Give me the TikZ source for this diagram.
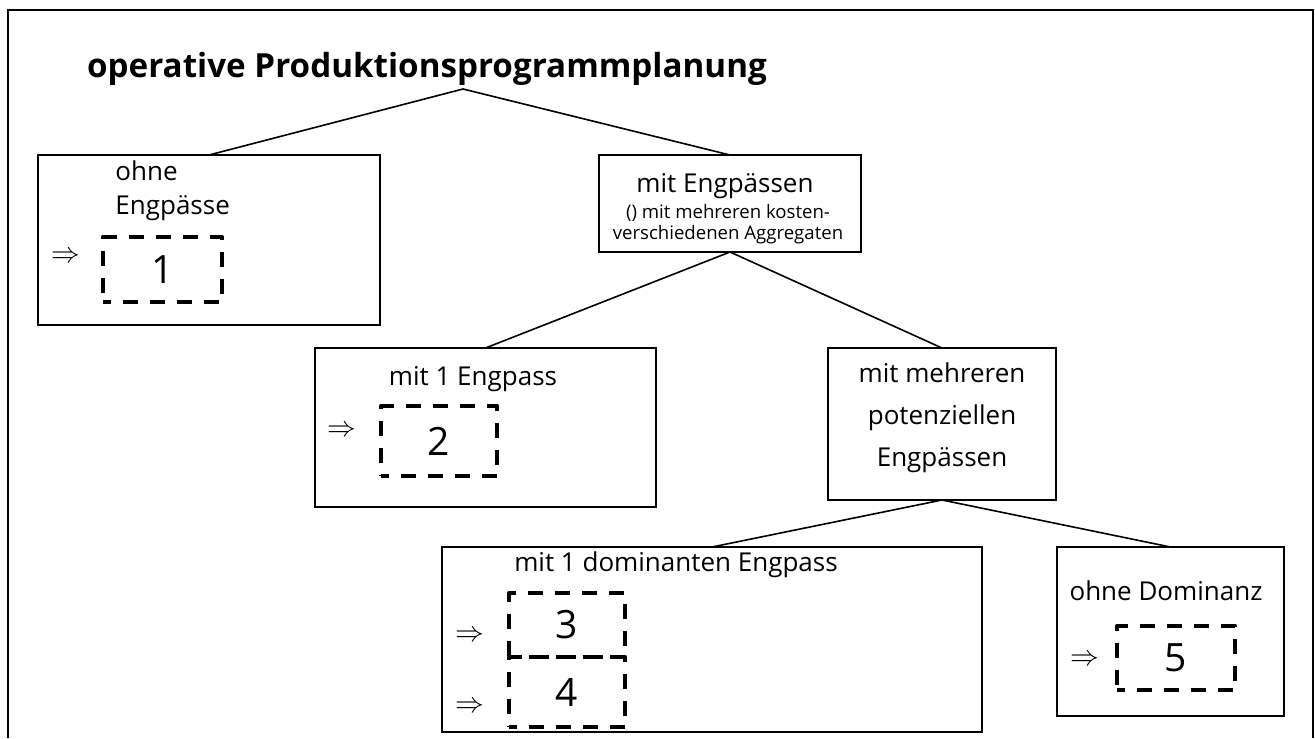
\documentclass[tikz,border=0pt]{standalone}
\usepackage{fontspec}
\setmainfont{Open Sans}
\usetikzlibrary{positioning}

\begin{document}
\begin{tikzpicture}[x=0.5pt, y=-0.5pt,
        box/.style={draw, line width=0.8pt, inner sep=0pt, outer sep=0pt},
        lbl/.style={inner sep=0pt, font=\fontsize{13}{17}\selectfont},
        note/.style={inner sep=0pt, font=\fontsize{9.3}{10.5}\selectfont, align=center},
        result/.style={draw, line width=2.4pt, dash pattern=on 7.5pt off 6pt, dash phase=3.75pt, line join=round, inner sep=0pt, font=\fontsize{19.5}{22}\selectfont},
        impl/.style={inner sep=0pt, font=\fontsize{15}{17}\selectfont},
        branch/.style={line width=0.8pt}
    ]
        \useasboundingbox (0,0) rectangle (1315,738);
        \draw[line width=1pt] (8,738) -- (8,10) -- (1313,10) -- (1313,738);

        \node[inner sep=0pt, anchor=base, font=\fontsize{16.6}{20}\selectfont\bfseries] (title) at (427,78) {operative Produktionsprogrammplanung};
        \coordinate (apex) at (463,89);

        % boxes of the tree
        \node[box, minimum width=171pt, minimum height=85pt] (ohne) at (209,240) {};
        \node[box, minimum width=131pt, minimum height=48.5pt] (mit) at (730,203.5) {};
        \node[box, minimum width=170.5pt, minimum height=79.5pt] (eins) at (485.5,427.5) {};
        \node[box, minimum width=114pt, minimum height=76pt] (mehrere) at (942,424) {};
        \node[box, minimum width=270pt, minimum height=92.5pt] (dominant) at (712,639.5) {};
        \node[box, minimum width=113.5pt, minimum height=84.5pt] (keine) at (1170.5,631.5) {};

        % texts
        \node[lbl, anchor=base west, align=left] (ohnetxt) at (115,214) {ohne\\Engpässe};
        \node[lbl, anchor=base] (mittxt) at (725,192) {mit Engpässen};
        \node[note, anchor=north] (mitnote) at (728,204) {() mit mehreren kosten-\\verschiedenen Aggregaten};
        \node[lbl, anchor=base] (einstxt) at (473,385) {mit 1 Engpass};
        \node[lbl, align=center, font=\fontsize{13}{21}\selectfont] (mehreretxt) at (942,418) {mit mehreren\\potenziellen\\Engpässen};
        \node[lbl, anchor=base] (dominanttxt) at (676,571) {mit 1 dominanten Engpass};
        \node[lbl, anchor=base] (keinetxt) at (1166,600) {ohne Dominanz};

        % results
        \node[impl] (i1) at (66,257) {$\Rightarrow$};
        \node[result, minimum width=59.5pt, minimum height=32.5pt] (r1) at (162.5,269.5) {1};
        \node[impl] (i2) at (342,431) {$\Rightarrow$};
        \node[result, minimum width=58pt, minimum height=35pt] (r2) at (439,441) {2};
        \node[impl] (i3) at (470,636) {$\Rightarrow$};
        \node[result, minimum width=58pt, minimum height=32pt] (r3) at (567,625) {3};
        \node[impl] (i4) at (470,707) {$\Rightarrow$};
        \node[result, minimum width=58pt, minimum height=35pt] (r4) at (567,692) {4};
        \node[impl] (i5) at (1085,660) {$\Rightarrow$};
        \node[result, minimum width=59pt, minimum height=32pt] (r5) at (1176,658) {5};

        \draw[branch] (apex) -- (ohne.north);
        \draw[branch] (apex) -- (mit.north);
        \draw[branch] (mit.south) -- (eins.north);
        \draw[branch] (mit.south) -- (mehrere.north);
        \draw[branch] (mehrere.south) -- (dominant.north);
        \draw[branch] (mehrere.south) -- (keine.north);
    \end{tikzpicture}
\end{document}
